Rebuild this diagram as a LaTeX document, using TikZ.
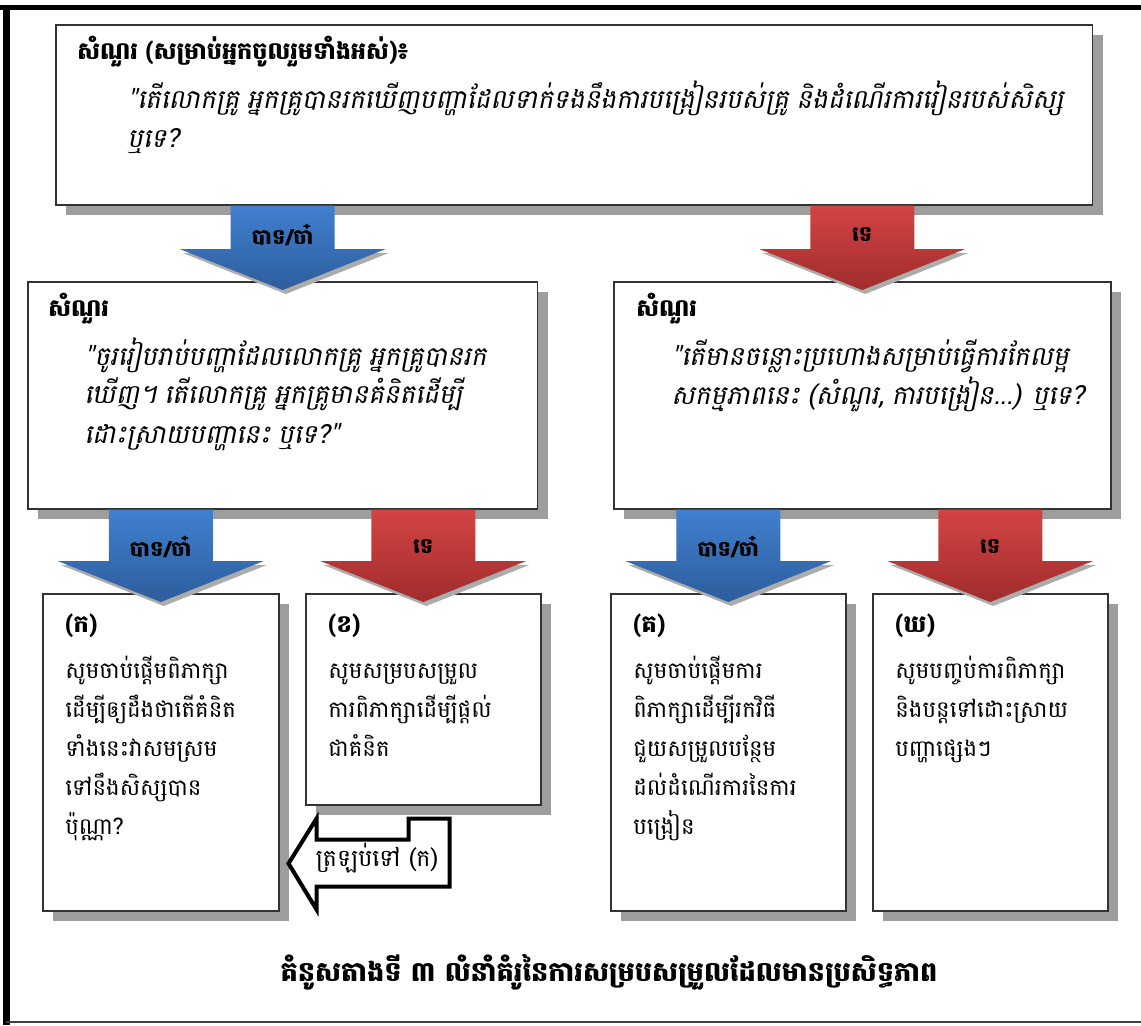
\documentclass[tikz,border=0pt]{standalone}
\usepackage{fontspec}
\newfontfamily\khmerfont[Script=Khmer,AutoFakeSlant=0.2]{Battambang}
\usetikzlibrary{calc,shadows}
\definecolor{boxgray}{HTML}{9D9D9D}
\definecolor{yestop}{HTML}{4080D0}
\definecolor{yesbot}{HTML}{2D5D9C}
\definecolor{notop}{HTML}{D44444}
\definecolor{nobot}{HTML}{A02C2C}
\newcommand\quotefont{\itshape\fontsize{15}{22}\selectfont}
\newcommand\headfont{\bfseries\fontsize{13.6}{22}\selectfont}
\tikzset{
  qbox/.style={draw=black!80, line width=0.9pt, fill=white, anchor=north west, inner sep=0pt,
    drop shadow={shadow xshift=0.2cm, shadow yshift=-0.2cm, fill=boxgray, opacity=1}},
  qtext/.style={anchor=north west, inner sep=0pt, align=left,
    font=\khmerfont\fontsize{13}{22.2}\selectfont},
  armlabel/.style={font=\khmerfont\bfseries\fontsize{12}{14}\selectfont, inner sep=0pt},
  backarrow/.style={draw=black, line width=2.3pt, fill=white, line join=miter},
}
% fat arrow from box #1 down onto box #2
\newcommand\fatarrow[5]{%
  \coordinate (fatop) at (#2.north |- #1.south);
  \coordinate (fatip) at ($(#2.north)+(0,9)$);
  \coordinate (fabase) at ($(#2.north)+(0,-32)$);
  \fill[boxgray!85, transform canvas={shift={(0.06cm,-0.08cm)}}]
    ($(fabase)+(-103,0)$) -- (fatip) -- ($(fabase)+(103,0)$) -- cycle;
  \shade[top color=#3top, bottom color=#3bot]
    ($(fatop)+(-52,0)$) -- ($(fabase)+(-52,0)$) -- ($(fabase)+(-103,0)$) -- (fatip)
    -- ($(fabase)+(103,0)$) -- ($(fabase)+(52,0)$) -- ($(fatop)+(52,0)$) -- cycle;
  \node[armlabel] (#5) at ($(fabase)+(0,-14)$) {#4};
}
\begin{document}
\begin{tikzpicture}[x=0.02cm,y=-0.02cm]
  \useasboundingbox (0,0) rectangle (1141,1025);
  % frame
  \draw[line width=2.8pt] (0,7.5) -- (1141,7.5);
  \draw[line width=4pt] (6.5,5) -- (6.5,1025);
  \draw[line width=1pt,black!75] (6,1022) -- (1141,1022);

  % boxes
  \node[qbox, minimum width=20.74cm, minimum height=3.6cm] (qtop) at (55,24) {};
  \node[qbox, minimum width=10.2cm, minimum height=4.54cm] (qleft) at (27,281) {};
  \node[qbox, minimum width=9.94cm, minimum height=4.54cm] (qright) at (613,281) {};
  \node[qbox, minimum width=4.72cm, minimum height=6.34cm] (qa) at (42,593) {};
  \node[qbox, minimum width=4.7cm, minimum height=4.22cm] (qb) at (305,593) {};
  \node[qbox, minimum width=4.7cm, minimum height=6.34cm] (qc) at (610,593) {};
  \node[qbox, minimum width=4.7cm, minimum height=6.34cm] (qd) at (872,593) {};

  % texts
  \node[qtext, text width=20cm] (ttop) at ($(qtop.north west)+(22,12)$) {%
    {\headfont សំណួរ (សម្រាប់អ្នកចូលរួមទាំងអស់)៖}\\[0.2cm]
    \quotefont\hspace*{1.0cm}"តើលោកគ្រូ អ្នកគ្រូបានរកឃើញបញ្ហាដែលទាក់ទងនឹងការបង្រៀនរបស់គ្រូ និងដំណើរការរៀនរបស់សិស្ស\\
    \hspace*{1.0cm}ឬទេ?};
  \node[qtext, text width=9.8cm] (tleft) at ($(qleft.north west)+(21,12)$) {%
    {\headfont សំណួរ}\\[0.2cm]
    \quotefont\hspace*{0.72cm}"ចូររៀបរាប់បញ្ហាដែលលោកគ្រូ អ្នកគ្រូបានរក\\
    \hspace*{0.72cm}ឃើញ។ តើលោកគ្រូ អ្នកគ្រូមានគំនិតដើម្បី\\
    \hspace*{0.72cm}ដោះស្រាយបញ្ហានេះ ឬទេ?"};
  \node[qtext, text width=9.6cm] (tright) at ($(qright.north west)+(23,12)$) {%
    {\headfont សំណួរ}\\[0.2cm]
    \quotefont\hspace*{0.7cm}"តើមានចន្លោះប្រហោងសម្រាប់ធ្វើការកែលម្អ\\
    \hspace*{0.7cm}សកម្មភាពនេះ (សំណួរ, ការបង្រៀន...) ឬទេ?};
  \node[qtext, text width=4.5cm] (ta) at ($(qa.north west)+(23,20)$) {%
    {\headfont (ក)}\\[0.14cm]
    សូមចាប់ផ្តើមពិភាក្សា\\ ដើម្បីឲ្យដឹងថាតើគំនិត\\ ទាំងនេះវាសមស្រម\\ ទៅនឹងសិស្សបាន\\ ប៉ុណ្ណា?};
  \node[qtext, text width=4.5cm] (tb) at ($(qb.north west)+(23,20)$) {%
    {\headfont (ខ)}\\[0.14cm]
    សូមសម្របសម្រួល\\ ការពិភាក្សាដើម្បីផ្តល់\\ ជាគំនិត};
  \node[qtext, text width=4.5cm] (tc) at ($(qc.north west)+(23,20)$) {%
    {\headfont (គ)}\\[0.14cm]
    សូមចាប់ផ្តើមការ\\ ពិភាក្សាដើម្បីរកវិធី\\ ជួយសម្រួលបន្ថែម\\ ដល់ដំណើរការនៃការ\\ បង្រៀន};
  \node[qtext, text width=4.5cm] (td) at ($(qd.north west)+(23,20)$) {%
    {\headfont (ឃ)}\\[0.14cm]
    សូមបញ្ចប់ការពិភាក្សា\\ និងបន្តទៅដោះស្រាយ\\ បញ្ហាផ្សេងៗ};

  % arrows
  \fatarrow{qtop}{qleft}{yes}{បាទ/ចា៎}{yes1}
  \fatarrow{qtop}{qright}{no}{ទេ}{no1}
  \fatarrow{qleft}{qa}{yes}{បាទ/ចា៎}{yes2}
  \fatarrow{qleft}{qb}{no}{ទេ}{no2}
  \fatarrow{qright}{qc}{yes}{បាទ/ចា៎}{yes3}
  \fatarrow{qright}{qd}{no}{ទេ}{no3}

  % back to (ka)
  \coordinate (backtip) at ($(qa.south east)+(9,-48)$);
  \draw[backarrow] (backtip) -- ++(28,-45) -- ++(0,21) -- ++(92,0) -- ++(0,-21) -- ++(41,0)
    -- ++(0,68) -- ++(-133,0) -- ++(0,23) -- cycle;
  \node[font=\khmerfont\fontsize{13.5}{15}\selectfont, inner sep=0pt] (backlbl) at (377,858) {ត្រឡប់ទៅ (ក)};

  \node[font=\khmerfont\bfseries\fontsize{15.5}{18}\selectfont, inner sep=0pt] (caption) at (609,972)
    {គំនូសតាងទី ៣ លំនាំគំរូនៃការសម្របសម្រួលដែលមានប្រសិទ្ធភាព};
\end{tikzpicture}
\end{document}
